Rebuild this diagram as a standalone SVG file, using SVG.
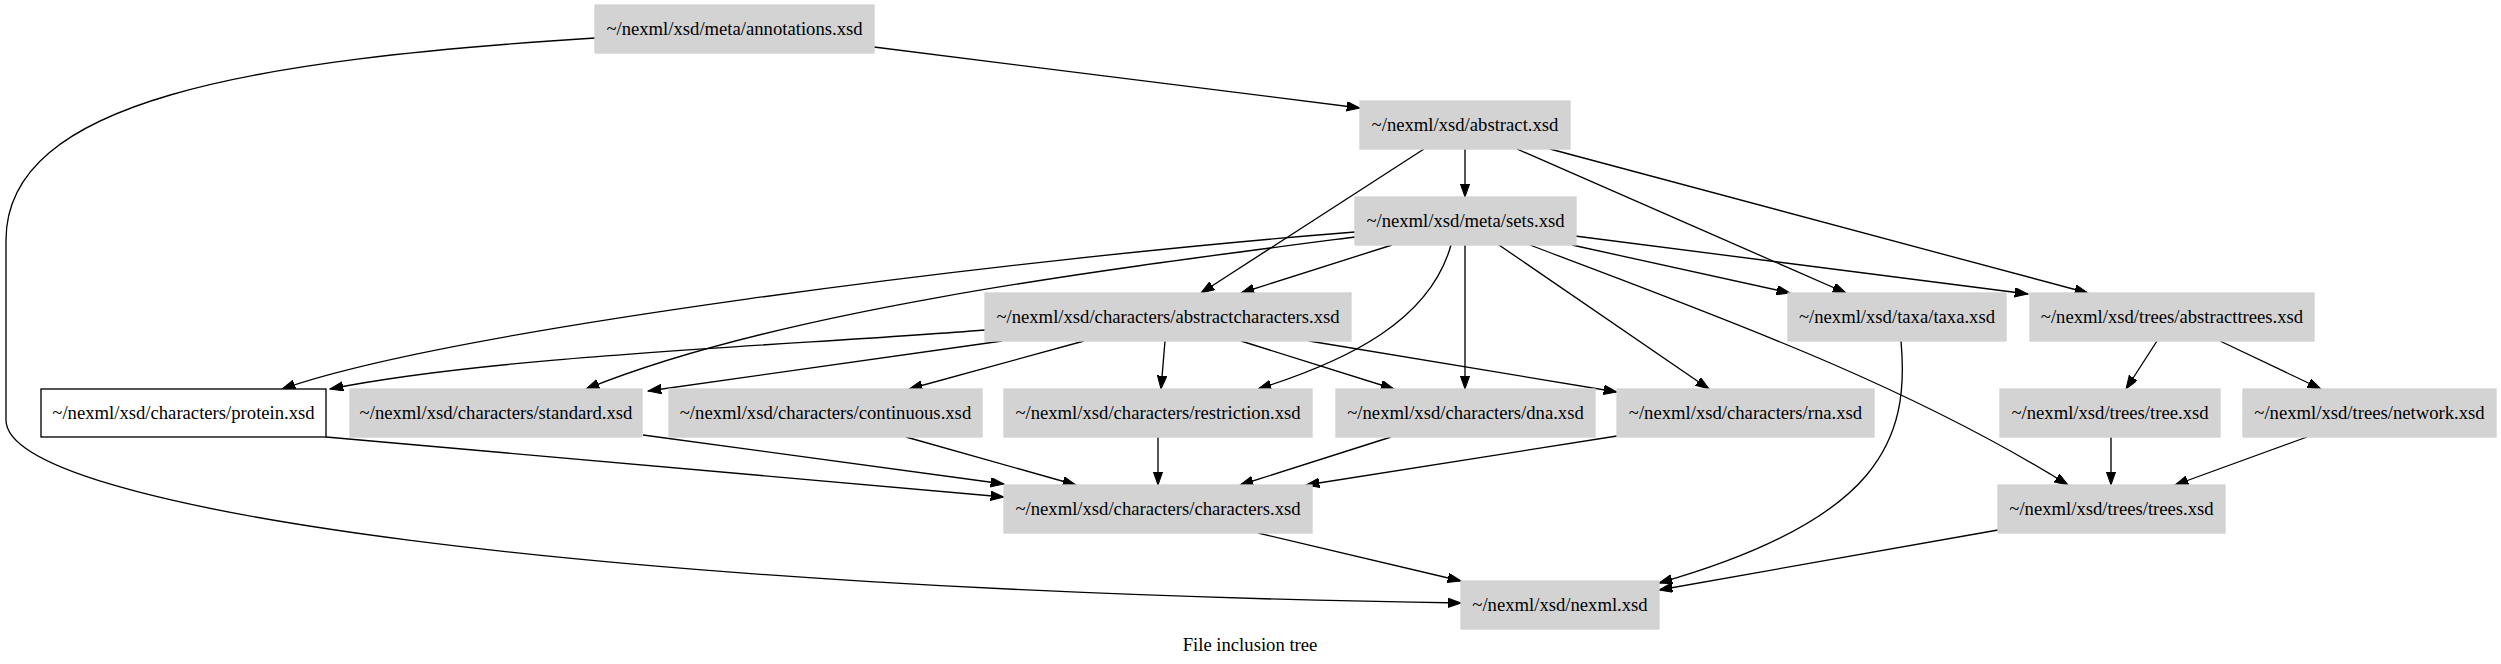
<svg xmlns="http://www.w3.org/2000/svg" width="2501" height="664" viewBox="0 0 2501 664">
<style>
.n rect{fill:#d3d3d3;stroke:#d3d3d3;stroke-width:1.33}
.n rect.w{fill:#ffffff;stroke:#000000}
text{font-family:"Liberation Serif","Times New Roman",serif;font-size:18.67px;fill:#000;text-anchor:middle}
#edges path{fill:none;stroke:#000;stroke-width:1.33;marker-end:url(#ah)}
</style>
<defs>
<marker id="ah" markerUnits="userSpaceOnUse" markerWidth="14" markerHeight="10" refX="13.3" refY="4.7" orient="auto">
<path d="M0,0 L13.3,4.7 L0,9.4 z" fill="#000" stroke="#000" stroke-width="1"/>
</marker>
</defs>
<rect width="2501" height="664" fill="#fff"/>
<g id="edges">
<path d="M874,47 L1360,108"/>
<path d="M595,38 C250,60 6,100 6,240 L6,420 C6,510 600,590 1461,603"/>
<path d="M1465,149 L1465,197"/>
<path d="M1424,149 L1201,293"/>
<path d="M1517,149 L1846,293"/>
<path d="M1550,149 L2088,293"/>
<path d="M1392,245 L1241,293"/>
<path d="M1355,232 C1000,260 450,330 282,389"/>
<path d="M1355,237 C1100,270 780,310 586,389"/>
<path d="M1451,245 C1430,320 1350,360 1258,389"/>
<path d="M1465,245 L1465,389"/>
<path d="M1499,245 L1709,389"/>
<path d="M1530,245 C1700,310 1900,380 2068,485"/>
<path d="M1572,245 L1790,293"/>
<path d="M1575,236 L2028,294"/>
<path d="M985,330 C800,345 500,355 330,389"/>
<path d="M1002,341 L648,391"/>
<path d="M1084,341 L909,389"/>
<path d="M1165,341 L1161,389"/>
<path d="M1241,341 L1394,389"/>
<path d="M1309,341 L1617,392"/>
<path d="M326,437 L1004,497"/>
<path d="M643,435 L1004,484"/>
<path d="M906,437 L1076,485"/>
<path d="M1158,437 L1158,485"/>
<path d="M1391,437 L1240,485"/>
<path d="M1617,436 L1306,485"/>
<path d="M1258,533 L1461,581"/>
<path d="M1901,341 C1910,440 1880,520 1659,583"/>
<path d="M1998,530 L1659,590"/>
<path d="M2157,341 L2126,389"/>
<path d="M2220,341 L2321,389"/>
<path d="M2111,437 L2111,485"/>
<path d="M2307,437 L2175,485"/>
</g>
<g id="annotations" class="n"><rect x="595" y="5" width="279" height="48"/><text x="734.5" y="35">~/nexml/xsd/meta/annotations.xsd</text></g>
<g id="abstract" class="n"><rect x="1360" y="101" width="210" height="48"/><text x="1465" y="131">~/nexml/xsd/abstract.xsd</text></g>
<g id="sets" class="n"><rect x="1355" y="197" width="221" height="48"/><text x="1465.5" y="227">~/nexml/xsd/meta/sets.xsd</text></g>
<g id="abstractcharacters" class="n"><rect x="985" y="293" width="366" height="48"/><text x="1168" y="323">~/nexml/xsd/characters/abstractcharacters.xsd</text></g>
<g id="taxa" class="n"><rect x="1788" y="293" width="218" height="48"/><text x="1897" y="323">~/nexml/xsd/taxa/taxa.xsd</text></g>
<g id="abstracttrees" class="n"><rect x="2030" y="293" width="284" height="48"/><text x="2172" y="323">~/nexml/xsd/trees/abstracttrees.xsd</text></g>
<g id="protein" class="n"><rect class="w" x="41" y="389" width="285" height="48"/><text x="183.5" y="419">~/nexml/xsd/characters/protein.xsd</text></g>
<g id="standard" class="n"><rect x="350" y="389" width="292" height="48"/><text x="496" y="419">~/nexml/xsd/characters/standard.xsd</text></g>
<g id="continuous" class="n"><rect x="669" y="389" width="313" height="48"/><text x="825.5" y="419">~/nexml/xsd/characters/continuous.xsd</text></g>
<g id="restriction" class="n"><rect x="1004" y="389" width="308" height="48"/><text x="1158" y="419">~/nexml/xsd/characters/restriction.xsd</text></g>
<g id="dna" class="n"><rect x="1336" y="389" width="259" height="48"/><text x="1465.5" y="419">~/nexml/xsd/characters/dna.xsd</text></g>
<g id="rna" class="n"><rect x="1617" y="389" width="257" height="48"/><text x="1745.5" y="419">~/nexml/xsd/characters/rna.xsd</text></g>
<g id="tree" class="n"><rect x="2000" y="389" width="220" height="48"/><text x="2110" y="419">~/nexml/xsd/trees/tree.xsd</text></g>
<g id="network" class="n"><rect x="2243" y="389" width="253" height="48"/><text x="2369.5" y="419">~/nexml/xsd/trees/network.xsd</text></g>
<g id="characters" class="n"><rect x="1004" y="485" width="308" height="48"/><text x="1158" y="515">~/nexml/xsd/characters/characters.xsd</text></g>
<g id="trees" class="n"><rect x="1998" y="485" width="227" height="48"/><text x="2111.5" y="515">~/nexml/xsd/trees/trees.xsd</text></g>
<g id="nexml" class="n"><rect x="1461" y="581" width="198" height="48"/><text x="1560" y="611">~/nexml/xsd/nexml.xsd</text></g>
<text x="1250" y="651">File inclusion tree</text>
</svg>
